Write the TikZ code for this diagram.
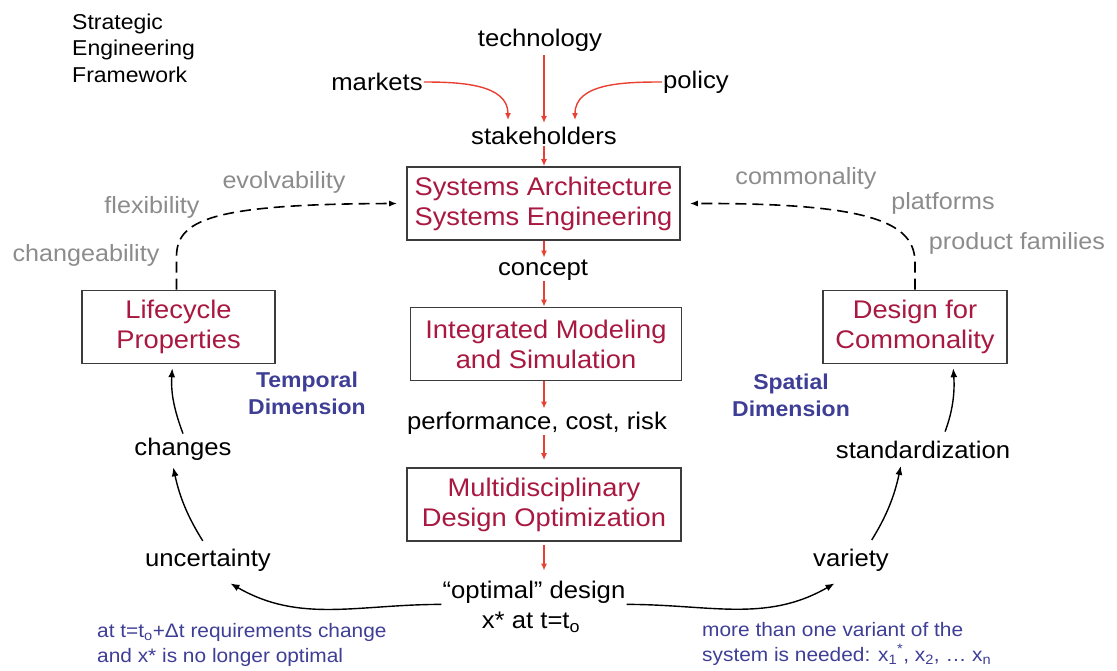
\documentclass[tikz,border=0pt]{standalone}
\usepackage{fontspec}
\setmainfont{Liberation Sans}[FakeStretch=1.07]
\usetikzlibrary{arrows.meta}
\definecolor{boxred}{RGB}{168,24,64}
\definecolor{arrowred}{RGB}{232,64,50}
\definecolor{dimblue}{RGB}{62,62,150}
\definecolor{labelgray}{RGB}{140,140,140}
\definecolor{boxgray}{RGB}{60,60,60}
\begin{document}
\begin{tikzpicture}[x=1pt,y=-1pt,
  txt/.style={font=\fontsize{24}{28}\selectfont, inner sep=1pt},
  graytxt/.style={font=\fontsize{23.5}{28}\selectfont, text=labelgray, inner sep=1pt},
  bluetxt/.style={font=\fontsize{19.5}{24.5}\selectfont, text=dimblue, align=left, inner sep=0pt},
  dimtxt/.style={font=\bfseries\fontsize{21.5}{27}\selectfont, text=dimblue, align=center, inner sep=0pt},
  procbox/.style={draw=boxgray, line width=1.6pt, minimum width=273pt, minimum height=73pt, align=center, text=boxred, font=\fontsize{25.5}{30}\selectfont},
  redarrow/.style={draw=arrowred, line width=1.4pt, -{Latex[length=7pt,width=6pt]}},
  blkarrow/.style={draw=black, line width=1.4pt, -{Latex[length=9pt,width=7pt]}},
  dasharrow/.style={draw=black, line width=1.6pt, dash pattern=on 11pt off 6pt, -{Latex[length=8pt,width=6pt]}}
]
\useasboundingbox (0,0) rectangle (1117,670);

% title
\node[font=\fontsize{21.5}{26.5}\selectfont, align=left, anchor=west, inner sep=0pt] (title) at (72,48) {Strategic\\Engineering\\Framework};

% top inputs
\node[txt] (tech) at (540,40) {technology};
\node[txt] (mkt) at (377,82) {markets};
\node[txt] (pol) at (696,82) {policy};
\node[txt] (stake) at (544,136) {stakeholders};

% central chain
\node[procbox] (sa) at (543.5,203.5) {Systems Architecture\\Systems Engineering};
\node[txt] (concept) at (543,270) {concept};
\node[procbox, minimum width=271pt] (ims) at (546,344) {Integrated Modeling\\and Simulation};
\node[txt] (perf) at (537,423) {performance, cost, risk};
\node[procbox, minimum width=274pt] (mdo) at (544,504.5) {Multidisciplinary\\Design Optimization};
\node[txt] (opt1) at (534,592) {“optimal” design};
\node[txt] (opt2) at (531,622) {x* at t=t\textsubscript{o}};

% side boxes
\node[procbox, minimum width=193pt] (lc) at (178.5,327) {Lifecycle\\Properties};
\node[procbox, minimum width=184pt] (dfc) at (915,327) {Design for\\Commonality};

% dimension labels
\node[dimtxt] (temp) at (307,393) {Temporal\\Dimension};
\node[dimtxt] (spat) at (791,395) {Spatial\\Dimension};

% gray labels
\node[graytxt] (evol) at (284,182) {evolvability};
\node[graytxt] (flex) at (152,207) {flexibility};
\node[graytxt] (chg) at (86,255) {changeability};
\node[graytxt] (comm) at (806,178) {commonality};
\node[graytxt] (plat) at (943,203) {platforms};
\node[graytxt] (prod) at (1017,243) {product families};

% loop labels
\node[txt] (changes) at (183,449) {changes};
\node[txt] (unc) at (208,560) {uncertainty};
\node[txt] (std) at (923,450) {standardization};
\node[txt] (var) at (851,560) {variety};

% blue notes
\node[bluetxt, anchor=west] (noteL) at (97,645) {at t=t\textsubscript{o}+Δt requirements change\\and x* is no longer optimal};
\node[bluetxt, anchor=west] (noteR) at (702,644) {more than one variant of the\\system is needed: x\textsubscript{1}\textsuperscript{*}, x\textsubscript{2}, … x\textsubscript{n}};

% red arrows
\coordinate (mk_end) at (508,120);
\coordinate (po_end) at (575,120);
\draw[redarrow, shorten <=3pt, shorten >=3pt] (tech.south -| stake) -- (stake.north);
\draw[redarrow] (mkt.east) to[out=0,in=90] (mk_end);
\draw[redarrow] (pol.west) to[out=180,in=90] (po_end);
\draw[redarrow] (stake.south) -- (sa.north -| stake);
\draw[redarrow, shorten >=1pt] (sa.south -| stake) -- (concept.north -| stake);
\draw[redarrow] (concept.south -| stake) -- (ims.north -| stake);
\draw[redarrow, shorten >=2pt] (ims.south -| stake) -- (perf.north -| stake);
\draw[redarrow, shorten >=7pt] (perf.south -| stake) -- (mdo.north -| stake);
\draw[redarrow, shorten <=3pt, shorten >=9pt] (mdo.south -| stake) -- (opt1.north -| stake);

% dashed feedback arrows
\draw[dasharrow] ([xshift=-2pt]lc.north) -- ++(0,-32) .. controls (176,220) and (210,204) .. ([xshift=-9pt]sa.west);
\draw[dasharrow] (dfc.north) -- ++(0,-27) .. controls (915,222) and (870,203) .. ([xshift=9pt]sa.east);

% black loop arrows
\draw[blkarrow, shorten >=4pt] (opt1.south west) to[out=180,in=-30] ([shift={(19,9)}]unc.south);
\draw[blkarrow, shorten <=8pt, shorten >=6pt] ([xshift=-1pt]unc.north) to[bend left=10] ([xshift=-11pt]changes.south);
\draw[blkarrow, shorten >=4pt] ([yshift=3pt]changes.north) to[bend left=12] ([xshift=-6pt]lc.south);
\draw[blkarrow, shorten >=4pt] (opt1.south east) to[out=0,in=-150] ([shift={(-13,9)}]var.south);
\draw[blkarrow, shorten <=9pt, shorten >=6pt] ([xshift=16pt]var.north) to[bend right=10] ([xshift=-21pt]std.south);
\draw[blkarrow, shorten <=9pt, shorten >=4pt] ([xshift=19pt]std.north) to[bend right=12] ([xshift=38pt]dfc.south);
\end{tikzpicture}
\end{document}
